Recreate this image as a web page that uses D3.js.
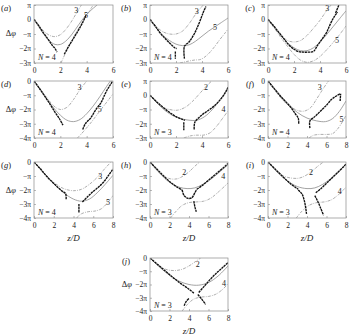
<!DOCTYPE html>
<html>
<head>
<meta charset="utf-8">
<script src="https://cdn.jsdelivr.net/npm/d3@7"></script>
<style>
  body { margin: 0; background: #fff; }
  svg text { font-family: "Liberation Serif", "DejaVu Serif", serif; fill: #222; }
</style>
</head>
<body>
<svg id="vis-container"></svg>
<script>
const WIDTH = 350
const HEIGHT = 335
const CONTAINER = d3.select("#vis-container")

// values in units of pi on the y axis, z/D on the x axis
const PANELS = ['a', 'b', 'c', 'd', 'e', 'f', 'g', 'h', 'i', 'j']
const N_VALUES = [4, 4, 4, 4, 3, 4, 4, 3, 3, 3]
const X_MAX = [6, 6, 6, 6, 6, 8, 8, 8, 8, 8]
const Y_TOP = [1, 1, 1, 0, 1, 0, 0, 0, 0, 0]
const MODE_UPPER = [3, 3, 3, 3, 2, 3, 3, 2, 2, 2]
const MODE_LOWER = [5, 5, 5, 5, 4, 5, 5, 4, 4, 4]

const UPPER_CURVES = [
    [[0,0],[0.4,-0.45],[0.8,-0.85],[1.2,-1.1],[1.6,-1.18],[2.0,-1.05],[2.4,-0.7],[2.8,-0.2],[3.2,0.4],[3.6,1.0]],
    [[0,0],[0.5,-0.5],[1.0,-0.85],[1.5,-1.0],[2.0,-1.0],[2.5,-0.8],[3.0,-0.3],[3.5,0.35],[4.0,0.9],[4.1,1.0]],
    [[0,0],[0.5,-0.6],[1.0,-1.1],[1.5,-1.45],[2.0,-1.55],[2.5,-1.45],[3.0,-1.1],[3.5,-0.6],[4.0,-0.05],[4.5,0.6],[4.85,1.0]],
    [[0,0],[0.5,-0.6],[1.0,-1.2],[1.5,-1.75],[2.0,-2.0],[2.5,-1.85],[3.0,-1.3],[3.5,-0.6],[4.0,0]],
    [[0,0],[0.5,-0.5],[1.0,-0.85],[1.5,-1.0],[2.1,-1.05],[2.7,-0.85],[3.3,-0.4],[3.9,0.2],[4.4,0.7],[4.75,1.0]],
    [[0,0],[0.8,-0.75],[1.6,-1.4],[2.4,-1.85],[3.2,-2.1],[3.8,-2.1],[4.4,-1.85],[5.0,-1.25],[5.6,-0.6],[6.2,0]],
    [[0,0],[1,-0.8],[2,-1.45],[3,-1.9],[4,-2.05],[4.8,-1.95],[5.6,-1.6],[6.4,-1.1],[7.2,-0.45],[7.8,0]],
    [[0,0],[0.7,-0.6],[1.4,-1.0],[2.1,-1.2],[2.8,-1.2],[3.4,-1.0],[4.0,-0.7],[4.6,-0.3],[5.1,0]],
    [[0,0],[0.8,-0.6],[1.6,-1.0],[2.4,-1.15],[3.2,-1.15],[3.9,-0.95],[4.6,-0.6],[5.2,-0.25],[5.7,0]],
    [[0,0],[0.8,-0.55],[1.6,-0.85],[2.5,-0.95],[3.3,-0.85],[4.0,-0.6],[4.7,-0.25],[5.2,0]]
]

const SOLID_CURVES = [
    [[0,0],[0.4,-0.55],[0.8,-1.1],[1.2,-1.5],[1.6,-1.72],[2.0,-1.72],[2.4,-1.5],[2.9,-1.0],[3.4,-0.35],[3.9,0.25],[4.4,0.7],[4.8,1.0]],
    [[0,0],[0.5,-0.6],[1.0,-1.1],[1.5,-1.45],[2.0,-1.7],[2.5,-1.8],[3.0,-1.75],[3.5,-1.5],[4.0,-1.15],[4.5,-0.8],[5.0,-0.5],[5.5,-0.2],[6.0,0.1]],
    [[0,0],[0.5,-0.55],[1.0,-1.1],[1.5,-1.6],[2.0,-1.95],[2.5,-2.15],[3.0,-2.15],[3.5,-1.95],[4.0,-1.55],[4.5,-1.05],[5.0,-0.5],[5.5,0.05],[6.0,0.6]],
    [[0,0],[0.5,-0.65],[1.0,-1.3],[1.5,-1.9],[2.0,-2.4],[2.5,-2.75],[3.0,-2.85],[3.5,-2.7],[4.0,-2.3],[4.5,-1.75],[5.0,-1.1],[5.5,-0.4],[5.8,0]],
    [[0,0],[0.6,-0.6],[1.2,-1.1],[1.8,-1.45],[2.4,-1.65],[3.0,-1.75],[3.6,-1.75],[4.2,-1.5],[4.8,-1.0],[5.4,-0.3],[6.0,0.45]],
    [[0,0],[1,-0.8],[2,-1.55],[3,-2.2],[4,-2.6],[5,-2.8],[5.9,-2.85],[6.6,-2.65],[7.3,-2.15],[8,-1.4]],
    [[0,0],[1,-0.8],[2,-1.55],[3,-2.2],[4,-2.65],[4.8,-2.8],[5.6,-2.65],[6.4,-2.2],[7.2,-1.6],[8,-0.95]],
    [[0,0],[1,-0.8],[2,-1.45],[3,-1.8],[3.8,-1.9],[4.6,-1.85],[5.4,-1.6],[6.2,-1.25],[7,-0.8],[8,-0.2]],
    [[0,0],[1,-0.75],[2,-1.35],[3,-1.75],[4,-1.9],[4.8,-1.85],[5.6,-1.6],[6.4,-1.2],[7.2,-0.7],[8,-0.15]],
    [[0,0],[1,-0.7],[2,-1.3],[3,-1.75],[4,-2.0],[5,-2.05],[6,-1.85],[7,-1.35],[8,-0.6]]
]

const LOWER_CURVES = [
    [[2.05,-3],[2.4,-2.3],[2.8,-1.6],[3.2,-0.9],[3.6,-0.3],[4.0,0.3],[4.5,1.0]],
    [[2.3,-3],[2.8,-2.9],[3.4,-2.8],[3.9,-2.75],[4.4,-2.45],[4.9,-1.95],[5.4,-1.35],[5.8,-0.9],[6.0,-0.65]],
    [[0,0],[0.5,-0.6],[1.0,-1.25],[1.5,-1.85],[2.0,-2.4],[2.5,-2.8],[3.0,-2.95],[3.5,-2.85],[4.0,-2.55],[4.5,-2.1],[5.0,-1.6],[5.5,-1.05],[6.0,-0.45]],
    [[3.3,-4],[3.8,-3.5],[4.3,-2.95],[4.8,-2.35],[5.3,-1.75],[5.8,-1.15],[6.0,-0.9]],
    [[2.6,-3],[3.1,-2.85],[3.6,-2.8],[4.1,-2.8],[4.6,-2.65],[5.1,-2.2],[5.6,-1.6],[6.0,-1.1]],
    [[4.2,-4],[4.7,-3.8],[5.3,-3.75],[6.0,-3.75],[6.6,-3.7],[7.1,-3.4],[7.6,-2.9],[8,-2.4]],
    [[4.3,-4],[4.8,-3.7],[5.5,-3.55],[6.2,-3.5],[6.8,-3.35],[7.4,-2.95],[8,-2.4]],
    [[2.1,-4],[2.7,-3.5],[3.3,-3.1],[4.0,-2.9],[4.8,-2.85],[5.5,-2.8],[6.2,-2.6],[7.0,-2.15],[8,-1.5]],
    [[2.9,-4],[3.5,-3.5],[4.2,-3.1],[5.0,-2.9],[5.8,-2.85],[6.5,-2.7],[7.2,-2.35],[8,-1.8]],
    [[3.3,-4],[3.9,-3.45],[4.5,-3.1],[5.2,-2.95],[6.0,-2.9],[6.7,-2.75],[7.4,-2.4],[8,-1.95]]
]

// measured phase, broken into the pieces seen in each panel
const EXP_DATA = [
    [[[0,0],[0.3,-0.35],[0.7,-0.9],[1.1,-1.4],[1.4,-1.8],[1.6,-2.0],[1.75,-2.25]],
     [[2.3,-2.4],[2.6,-1.9],[3.0,-1.3],[3.4,-0.7],[3.7,-0.2],[3.95,0.3]]],
    [[[0,0],[0.4,-0.45],[0.8,-0.95],[1.2,-1.35],[1.6,-1.7],[1.9,-1.95],[2.05,-2.0]],
     [[1.95,-2.2],[1.95,-2.7]],
     [[2.65,-2.7],[2.65,-1.85],[3.0,-1.55],[3.4,-1.0],[3.8,-0.2],[4.1,0.5],[4.3,0.9]]],
    [[[0,0],[0.4,-0.4],[0.8,-0.85],[1.2,-1.3],[1.6,-1.75],[2.0,-2.05],[2.3,-2.2],[2.7,-2.25],[3.1,-2.25],[3.5,-2.2],[3.8,-1.8],[4.2,-1.3],[4.5,-0.9],[4.8,-0.3],[5.1,0.2],[5.35,0.5]],
     [[5.2,0.45],[5.45,1.0]]],
    [[[0,0],[0.4,-0.5],[0.8,-1.05],[1.2,-1.6],[1.6,-2.2],[1.9,-2.6],[2.2,-3.1]],
     [[3.7,-3.4],[3.9,-3.0],[4.3,-2.6],[4.7,-2.0],[5.1,-1.5],[5.4,-0.9],[5.7,-0.4],[5.95,-0.05]]],
    [[[0,0],[0.5,-0.45],[1.0,-0.85],[1.5,-1.2],[2.0,-1.5],[2.5,-1.7],[2.7,-1.75]],
     [[2.6,-1.9],[2.6,-2.45]],
     [[3.4,-2.4],[3.45,-1.9],[3.9,-1.45],[4.5,-1.05],[5.0,-0.7],[5.5,-0.2],[5.8,0.2],[6.0,0.55]]],
    [[[0,0],[0.6,-0.5],[1.2,-1.0],[1.8,-1.45],[2.4,-1.9],[2.8,-2.3],[3.1,-2.6],[3.15,-3.0]],
     [[4.3,-3.3],[4.3,-2.8],[4.8,-2.5],[5.4,-2.1],[6.0,-1.7],[6.5,-1.3],[7.0,-1.05],[7.4,-0.9]],
     [[7.4,-1.4],[7.45,-0.9]]],
    [[[0,0],[0.6,-0.45],[1.2,-0.95],[1.8,-1.4],[2.4,-1.8],[2.9,-2.1],[3.2,-2.25],[3.25,-2.7]],
     [[4.55,-3.6],[4.55,-3.0]],
     [[4.9,-2.85],[5.4,-2.5],[6.0,-2.1],[6.6,-1.75],[7.2,-1.3],[7.6,-0.9],[8,-0.5]]],
    [[[0,0],[0.7,-0.5],[1.4,-1.0],[2.1,-1.45],[2.8,-1.8],[3.3,-2.0]],
     [[3.3,-2.0],[3.5,-2.4],[3.9,-2.6],[4.3,-2.55],[4.6,-2.2],[4.8,-1.95]],
     [[4.5,-2.8],[4.6,-3.2],[4.75,-3.55]],
     [[4.8,-1.95],[5.4,-1.65],[6.0,-1.3],[6.6,-0.95],[7.2,-0.6],[7.7,-0.3],[8,-0.1]]],
    [[[0,0],[0.8,-0.55],[1.6,-1.1],[2.3,-1.55],[2.8,-1.8],[3.1,-1.95]],
     [[3.1,-2.0],[3.5,-2.3],[3.7,-2.7],[3.85,-3.2],[3.95,-3.7]],
     [[4.8,-2.4],[5.1,-2.8],[5.4,-3.3],[5.7,-3.8]],
     [[4.9,-2.2],[5.5,-1.85],[6.1,-1.45],[6.7,-1.05],[7.3,-0.65],[7.8,-0.3],[8,-0.15]]],
    [[[0,0],[0.8,-0.5],[1.6,-1.0],[2.4,-1.5],[3.2,-1.95],[3.9,-2.3],[4.5,-2.65]],
     [[3.5,-3.6],[3.7,-3.3],[4.0,-3.05]],
     [[4.9,-2.75],[5.3,-3.1],[5.7,-3.5]],
     [[5.0,-2.6],[5.6,-2.1],[6.2,-1.6],[6.8,-1.15],[7.4,-0.75],[8,-0.35]]]
]

const UPPER_LABEL_AT = [[3.2,0.65],[3.6,0.55],[4.55,0.75],[3.45,-0.45],[4.3,0.55],[5.3,-0.4],[6.7,-1.0],[3.5,-0.75],[4.4,-0.75],[4.9,-0.5]]
const LOWER_LABEL_AT = [[3.95,0.3],[5.0,-0.5],[5.3,-1.4],[5.0,-2.0],[5.65,-1.0],[7.55,-2.7],[7.5,-2.9],[7.5,-1.0],[7.35,-2.05],[7.6,-1.9]]

// layout
const COLS = [[34, 113], [150, 228], [268, 346]]
const ROWS = [[5, 63], [81, 138], [162, 218], [258, 311]]
const GRID_POS = [[0,0],[1,0],[2,0],[0,1],[1,1],[2,1],[0,2],[1,2],[2,2],[1,3]]
const LETTER_OFFSET = [-28, -24, -18]

initVisualization()

function initVisualization() {
    CONTAINER
        .attr('width', WIDTH)
        .attr('height', HEIGHT)

    PANELS.forEach((id, i) => renderPanel(i))
}

function piLabel(v) {
    if (v === 0) return '0'
    if (v === 1) return 'π'
    if (v === -1) return '−π'
    return (v < 0 ? '−' : '') + Math.abs(v) + 'π'
}

function styleAxis(s) {
    s.select('.domain').remove()
    s.selectAll('line').attr('stroke', '#8a8a8a').attr('stroke-width', 0.6)
    s.selectAll('text')
        .attr('font-size', 7.5)
        .attr('font-family', '"Liberation Serif", serif')
        .attr('fill', '#222')
}

function renderPanel(i) {
    const [col, row] = GRID_POS[i]
    const [x0, x1] = COLS[col]
    const [y0, y1] = ROWS[row]

    const x = d3.scaleLinear().domain([0, X_MAX[i]]).range([x0, x1])
    const y = d3.scaleLinear().domain([Y_TOP[i] - 4, Y_TOP[i]]).range([y1, y0])

    const g = CONTAINER.append('g').attr('class', 'panel panel-' + PANELS[i])

    const clipId = 'clip-' + PANELS[i]
    g.append('clipPath').attr('id', clipId)
        .append('rect')
        .attr('x', x0).attr('y', y0)
        .attr('width', x1 - x0).attr('height', y1 - y0)

    const line = d3.line()
        .x(d => x(d[0]))
        .y(d => y(d[1]))
        .curve(d3.curveCatmullRom)

    const plot = g.append('g').attr('clip-path', `url(#${clipId})`)

    // model curves
    ;[UPPER_CURVES[i], LOWER_CURVES[i]].forEach(pts => {
        plot.append('path')
            .attr('d', line(pts))
            .attr('fill', 'none')
            .attr('stroke', '#8a8a8a')
            .attr('stroke-width', 0.7)
            .attr('stroke-dasharray', '3,1.2,0.8,1.2')
    })

    plot.append('path')
        .attr('d', line(SOLID_CURVES[i]))
        .attr('fill', 'none')
        .attr('stroke', '#8c8c8c')
        .attr('stroke-width', 0.8)

    // experiment
    EXP_DATA[i].forEach(seg => {
        plot.append('path')
            .attr('d', line(seg))
            .attr('fill', 'none')
            .attr('stroke', '#111')
            .attr('stroke-width', 1.35)
            .attr('stroke-dasharray', '2.4,0.6')
    })

    // frame and axes
    g.append('rect')
        .attr('x', x0).attr('y', y0)
        .attr('width', x1 - x0).attr('height', y1 - y0)
        .attr('fill', 'none')
        .attr('stroke', '#8a8a8a')
        .attr('stroke-width', 0.7)

    const xTicks = d3.range(0, X_MAX[i] + 1, 2)
    g.append('g')
        .attr('transform', `translate(0,${y1})`)
        .call(d3.axisBottom(x).tickValues(xTicks).tickSize(-2).tickPadding(5).tickFormat(d3.format('d')))
        .call(styleAxis)

    const yTicks = d3.range(Y_TOP[i] - 4, Y_TOP[i] + 1)
    g.append('g')
        .attr('transform', `translate(${x0},0)`)
        .call(d3.axisLeft(y).tickValues(yTicks).tickSize(-2).tickPadding(3).tickFormat(piLabel))
        .call(styleAxis)

    // mode numbers
    ;[[UPPER_LABEL_AT[i], MODE_UPPER[i]], [LOWER_LABEL_AT[i], MODE_LOWER[i]]].forEach(([at, mode]) => {
        g.append('text')
            .attr('x', x(at[0]))
            .attr('y', y(at[1]))
            .attr('dy', '0.35em')
            .attr('text-anchor', 'middle')
            .attr('font-size', 8)
            .text(mode)
    })

    // N label
    g.append('text')
        .attr('x', x0 + 4)
        .attr('y', y1 - 3)
        .attr('font-size', 8)
        .html(`<tspan font-style="italic">N</tspan> = ${N_VALUES[i]}`)

    // panel letter
    g.append('text')
        .attr('x', x0 + LETTER_OFFSET[col])
        .attr('y', y0 + 6)
        .attr('text-anchor', 'middle')
        .attr('font-size', 8.5)
        .html(`(<tspan font-style="italic">${PANELS[i]}</tspan>)`)

    if (col === 0 || PANELS[i] === 'j') {
        g.append('text')
            .attr('x', x0 - 18)
            .attr('y', row === 0 ? y(0) + 14 : y(-2))
            .attr('dy', '0.35em')
            .attr('text-anchor', 'end')
            .attr('font-size', 8.5)
            .html('Δ<tspan font-style="italic">φ</tspan>')
    }

    if (row >= 2) {
        g.append('text')
            .attr('x', (x0 + x1) / 2)
            .attr('y', y1 + 23)
            .attr('text-anchor', 'middle')
            .attr('font-size', 9)
            .attr('font-style', 'italic')
            .text('z/D')
    }
}
</script>
</body>
</html>
